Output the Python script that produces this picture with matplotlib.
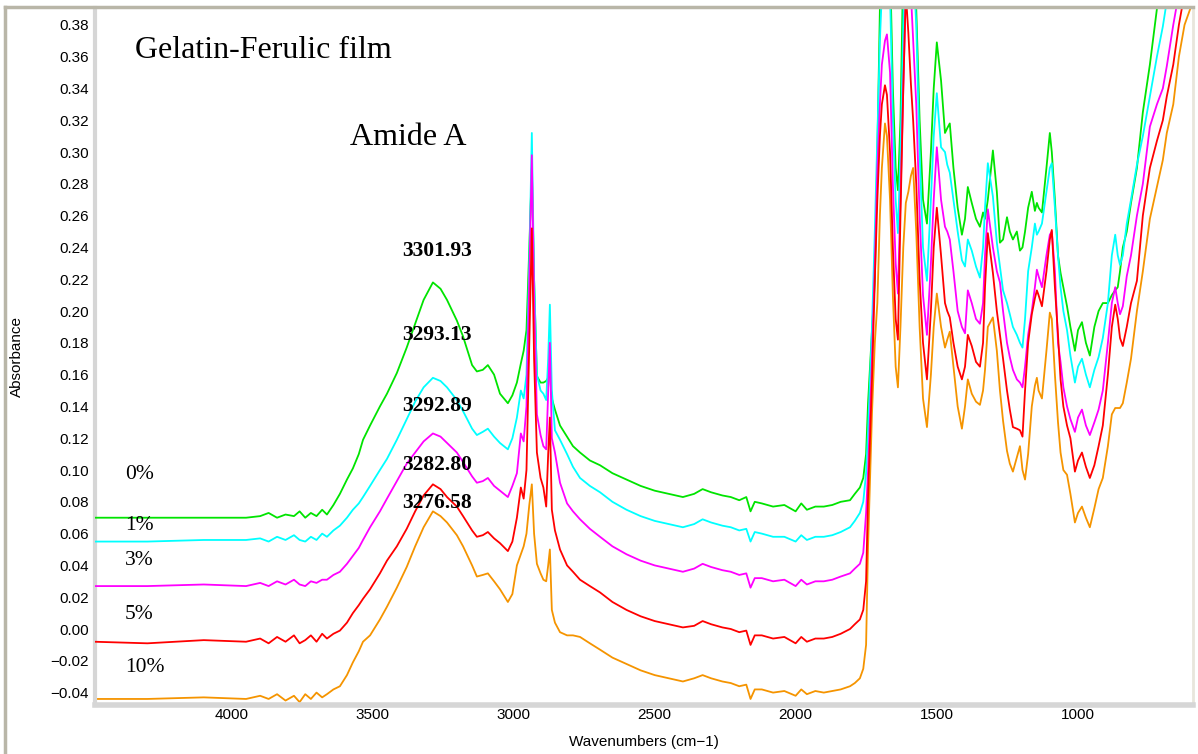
import matplotlib
matplotlib.use('Agg')
from matplotlib import pyplot as plt
from matplotlib.lines import Line2D
from matplotlib.ticker import MultipleLocator, FuncFormatter

# wavenumber grid (cm-1), shared by all spectra
wavenumber = [
    4490, 4300, 4100, 3950, 3900, 3870, 3840, 3810, 3780, 3760, 3740, 3720, 3700, 3680, 3663, 3640,
    3617, 3592, 3571, 3550, 3535, 3510, 3475, 3450, 3415, 3380, 3350, 3320, 3287, 3260, 3237, 3202, 3180, 3148, 3131,
    3110, 3092, 3070, 3049, 3021, 3005, 2989, 2975, 2965, 2955, 2945, 2936, 2928, 2918, 2905, 2895, 2885, 2878, 2872, 2865, 2854, 2836, 2811,
    2790, 2765, 2730, 2694, 2650, 2600, 2550, 2500, 2450, 2400, 2360, 2330, 2300, 2260, 2230, 2200, 2175, 2160, 2145, 2120, 2080, 2040, 2000, 1980, 1960, 1930, 1900, 1870, 1840, 1807,
    1790, 1772, 1760, 1750, 1743, 1736, 1729, 1719, 1710, 1701, 1694, 1683, 1676, 1665, 1655, 1645, 1637, 1628, 1618, 1609, 1600, 1591, 1583, 1572, 1560, 1548, 1534, 1520, 1510, 1499,
    1484, 1470, 1462, 1453, 1440, 1425, 1410, 1399, 1389, 1375, 1360, 1346, 1335, 1328, 1318, 1300, 1286, 1275, 1264, 1250, 1240, 1229, 1215, 1204, 1195, 1186, 1175,
    1162, 1151, 1144, 1138, 1126, 1110, 1098, 1091, 1080, 1069, 1060, 1050, 1037, 1025, 1009,
    998, 984, 970, 956, 940, 925, 910, 892, 878, 866, 857, 849, 839, 825, 810, 789, 768, 743, 718, 697, 683, 660,
    640, 620, 600, 590]

abs_0 = [
    0.070, 0.070, 0.070, 0.070, 0.071, 0.073, 0.070, 0.072, 0.071, 0.074, 0.070, 0.073, 0.071, 0.075, 0.072, 0.078,
    0.085, 0.094, 0.101, 0.110, 0.119, 0.128, 0.140, 0.148, 0.161, 0.177, 0.192, 0.207, 0.218, 0.214, 0.207, 0.194, 0.184, 0.166, 0.162,
    0.163, 0.166, 0.160, 0.148, 0.142, 0.147, 0.155, 0.167, 0.175, 0.188, 0.240, 0.290, 0.220, 0.159, 0.155, 0.155, 0.156, 0.158, 0.160, 0.145, 0.138, 0.128, 0.121,
    0.115, 0.111, 0.106, 0.103, 0.098, 0.094, 0.090, 0.087, 0.085, 0.083, 0.085, 0.088, 0.086, 0.084, 0.083, 0.081, 0.083, 0.074, 0.080, 0.079, 0.077, 0.078, 0.074, 0.079, 0.075, 0.077, 0.077, 0.078, 0.080, 0.081,
    0.085, 0.089, 0.095, 0.110, 0.142, 0.165, 0.188, 0.219, 0.300, 0.390, 0.420, 0.460, 0.460, 0.420, 0.340, 0.290, 0.276, 0.320, 0.420, 0.480, 0.480, 0.460, 0.430, 0.390, 0.320, 0.270, 0.255, 0.300, 0.340, 0.369,
    0.345, 0.312, 0.315, 0.318, 0.290, 0.265, 0.248, 0.258, 0.278, 0.268, 0.258, 0.253, 0.262, 0.258, 0.270, 0.301, 0.275, 0.243, 0.245, 0.259, 0.250, 0.245, 0.250, 0.238, 0.240, 0.250, 0.265,
    0.275, 0.263, 0.268, 0.265, 0.262, 0.290, 0.312, 0.300, 0.270, 0.235, 0.224, 0.215, 0.203, 0.190, 0.175,
    0.188, 0.193, 0.180, 0.172, 0.190, 0.200, 0.205, 0.205, 0.210, 0.213, 0.215, 0.225, 0.240, 0.250, 0.268, 0.290, 0.325, 0.355, 0.390, 0.420, 0.440, 0.470,
    0.500, 0.520, 0.540, 0.550]

abs_1 = [
    0.055, 0.055, 0.056, 0.056, 0.057, 0.055, 0.058, 0.056, 0.059, 0.056, 0.055, 0.058, 0.056, 0.060, 0.058, 0.062,
    0.065, 0.070, 0.075, 0.079, 0.083, 0.090, 0.100, 0.107, 0.119, 0.132, 0.143, 0.152, 0.158, 0.156, 0.152, 0.144, 0.137, 0.126, 0.122,
    0.124, 0.126, 0.121, 0.117, 0.113, 0.120, 0.133, 0.150, 0.145, 0.160, 0.230, 0.312, 0.220, 0.160, 0.150, 0.148, 0.144, 0.170, 0.204, 0.150, 0.125, 0.119, 0.110,
    0.102, 0.095, 0.090, 0.086, 0.080, 0.075, 0.071, 0.068, 0.066, 0.064, 0.066, 0.069, 0.067, 0.065, 0.064, 0.062, 0.063, 0.055, 0.061, 0.060, 0.058, 0.058, 0.055, 0.059, 0.056, 0.058, 0.058, 0.059, 0.061, 0.064,
    0.068, 0.073, 0.080, 0.098, 0.125, 0.157, 0.190, 0.250, 0.310, 0.370, 0.400, 0.430, 0.430, 0.400, 0.320, 0.270, 0.249, 0.300, 0.380, 0.450, 0.460, 0.440, 0.420, 0.380, 0.300, 0.240, 0.219, 0.270, 0.310, 0.337,
    0.303, 0.300, 0.292, 0.287, 0.270, 0.250, 0.232, 0.228, 0.245, 0.238, 0.228, 0.221, 0.240, 0.265, 0.293, 0.272, 0.243, 0.228, 0.213, 0.205, 0.198, 0.190, 0.185, 0.180, 0.177, 0.195, 0.225,
    0.240, 0.255, 0.248, 0.250, 0.255, 0.275, 0.290, 0.293, 0.265, 0.235, 0.215, 0.200, 0.188, 0.172, 0.155,
    0.165, 0.170, 0.160, 0.152, 0.163, 0.171, 0.183, 0.205, 0.235, 0.248, 0.235, 0.229, 0.235, 0.255, 0.270, 0.292, 0.310, 0.335, 0.360, 0.379, 0.395, 0.420,
    0.440, 0.460, 0.480, 0.490]

abs_3 = [
    0.027, 0.027, 0.028, 0.027, 0.029, 0.027, 0.030, 0.028, 0.031, 0.028, 0.027, 0.030, 0.029, 0.031, 0.031, 0.034,
    0.036, 0.041, 0.046, 0.051, 0.056, 0.064, 0.074, 0.082, 0.093, 0.104, 0.111, 0.118, 0.123, 0.121, 0.117, 0.111, 0.105, 0.096, 0.092,
    0.093, 0.095, 0.090, 0.087, 0.083, 0.090, 0.098, 0.123, 0.118, 0.140, 0.220, 0.298, 0.210, 0.135, 0.122, 0.115, 0.113, 0.150, 0.180, 0.120, 0.111, 0.092, 0.079,
    0.074, 0.069, 0.063, 0.058, 0.052, 0.047, 0.043, 0.040, 0.038, 0.036, 0.038, 0.041, 0.039, 0.037, 0.036, 0.034, 0.035, 0.026, 0.032, 0.032, 0.030, 0.031, 0.027, 0.031, 0.028, 0.030, 0.030, 0.031, 0.033, 0.035,
    0.038, 0.041, 0.048, 0.073, 0.100, 0.136, 0.170, 0.230, 0.290, 0.330, 0.355, 0.370, 0.374, 0.350, 0.280, 0.230, 0.211, 0.270, 0.340, 0.400, 0.420, 0.400, 0.370, 0.330, 0.260, 0.210, 0.185, 0.230, 0.270, 0.303,
    0.270, 0.253, 0.250, 0.245, 0.225, 0.200, 0.190, 0.186, 0.213, 0.205, 0.195, 0.192, 0.205, 0.235, 0.264, 0.240, 0.225, 0.218, 0.200, 0.180, 0.171, 0.163, 0.157, 0.155, 0.152, 0.165, 0.185,
    0.200, 0.215, 0.226, 0.222, 0.215, 0.235, 0.248, 0.250, 0.225, 0.180, 0.168, 0.152, 0.140, 0.132, 0.124,
    0.133, 0.138, 0.128, 0.122, 0.130, 0.138, 0.150, 0.180, 0.205, 0.215, 0.205, 0.198, 0.203, 0.222, 0.235, 0.260, 0.280, 0.316, 0.330, 0.340, 0.354, 0.380,
    0.400, 0.420, 0.440, 0.450]

abs_5 = [
    -0.008, -0.009, -0.007, -0.008, -0.006, -0.009, -0.005, -0.008, -0.004, -0.009, -0.007, -0.004, -0.008, -0.003, -0.006, -0.003,
    -0.001, 0.004, 0.010, 0.015, 0.019, 0.025, 0.035, 0.043, 0.052, 0.063, 0.074, 0.084, 0.091, 0.088, 0.083, 0.077, 0.071, 0.062, 0.058,
    0.059, 0.061, 0.057, 0.054, 0.049, 0.055, 0.070, 0.089, 0.082, 0.100, 0.180, 0.252, 0.170, 0.111, 0.095, 0.089, 0.077, 0.110, 0.133, 0.075, 0.062, 0.050, 0.040,
    0.036, 0.031, 0.027, 0.023, 0.017, 0.012, 0.008, 0.005, 0.003, 0.001, 0.002, 0.005, 0.003, 0.001, 0.000, -0.002, -0.001, -0.010, -0.004, -0.004, -0.006, -0.005, -0.009, -0.005, -0.008, -0.006, -0.006, -0.005, -0.003, 0.000,
    0.003, 0.006, 0.012, 0.030, 0.083, 0.120, 0.157, 0.220, 0.270, 0.310, 0.330, 0.342, 0.336, 0.300, 0.240, 0.195, 0.182, 0.260, 0.340, 0.400, 0.375, 0.343, 0.320, 0.280, 0.220, 0.180, 0.157, 0.200, 0.240, 0.265,
    0.235, 0.205, 0.200, 0.196, 0.180, 0.165, 0.157, 0.165, 0.185, 0.178, 0.168, 0.165, 0.180, 0.215, 0.249, 0.224, 0.200, 0.185, 0.170, 0.150, 0.138, 0.127, 0.126, 0.125, 0.121, 0.150, 0.180,
    0.198, 0.208, 0.213, 0.210, 0.203, 0.225, 0.245, 0.251, 0.215, 0.185, 0.157, 0.140, 0.128, 0.120, 0.099,
    0.106, 0.111, 0.102, 0.095, 0.103, 0.115, 0.128, 0.160, 0.190, 0.204, 0.195, 0.183, 0.178, 0.190, 0.205, 0.219, 0.260, 0.290, 0.307, 0.320, 0.335, 0.355,
    0.380, 0.400, 0.420, 0.430]

abs_10 = [
    -0.044, -0.044, -0.043, -0.044, -0.042, -0.044, -0.041, -0.045, -0.042, -0.046, -0.041, -0.044, -0.040, -0.043, -0.041, -0.038,
    -0.036, -0.029, -0.021, -0.014, -0.008, -0.004, 0.006, 0.014, 0.026, 0.039, 0.052, 0.064, 0.074, 0.071, 0.067, 0.059, 0.052, 0.040, 0.033,
    0.034, 0.035, 0.030, 0.025, 0.017, 0.022, 0.040, 0.047, 0.052, 0.060, 0.078, 0.091, 0.060, 0.041, 0.035, 0.031, 0.030, 0.040, 0.050, 0.012, 0.004, -0.002, -0.004,
    -0.004, -0.005, -0.009, -0.013, -0.018, -0.022, -0.026, -0.029, -0.031, -0.033, -0.031, -0.029, -0.031, -0.033, -0.034, -0.036, -0.035, -0.044, -0.038, -0.038, -0.040, -0.039, -0.042, -0.038, -0.041, -0.039, -0.040, -0.039, -0.038, -0.036,
    -0.034, -0.031, -0.025, -0.010, 0.052, 0.095, 0.136, 0.180, 0.205, 0.260, 0.290, 0.318, 0.310, 0.270, 0.210, 0.165, 0.152, 0.190, 0.240, 0.268, 0.275, 0.285, 0.290, 0.250, 0.190, 0.145, 0.127, 0.160, 0.190, 0.211,
    0.190, 0.177, 0.182, 0.187, 0.165, 0.140, 0.126, 0.140, 0.157, 0.148, 0.143, 0.141, 0.150, 0.163, 0.190, 0.196, 0.175, 0.150, 0.131, 0.112, 0.104, 0.099, 0.108, 0.115, 0.100, 0.094, 0.110,
    0.140, 0.153, 0.158, 0.150, 0.145, 0.175, 0.199, 0.195, 0.160, 0.130, 0.111, 0.100, 0.097, 0.085, 0.067,
    0.073, 0.077, 0.070, 0.064, 0.076, 0.088, 0.095, 0.115, 0.135, 0.139, 0.139, 0.139, 0.142, 0.155, 0.170, 0.200, 0.225, 0.258, 0.278, 0.295, 0.312, 0.330,
    0.360, 0.380, 0.390, 0.395]

labels = ['0%', '1%', '3%', '5%', '10%']
label_y = [0.097, 0.065, 0.043, 0.009, -0.024]
peak_labels = ['3301.93', '3293.13', '3292.89', '3282.80', '3276.58']
peak_label_y = [0.238, 0.185, 0.140, 0.103, 0.079]

spectra = [abs_0, abs_1, abs_3, abs_5, abs_10]
colors = ['#00e400', '#00ffff', '#ff00ff', '#ff0000', '#f59400']
zorders = [3, 4, 5, 6, 2]

fig = plt.figure(figsize=(11.98, 7.54), dpi=100)
ax = fig.add_axes([95/1198, 49/754, 1098/1198, 697/754])

for y, c, z in zip(spectra, colors, zorders):
    ax.plot(wavenumber, y, color=c, lw=1.3, zorder=z)

ax.set_xlim(4486, 590)
ax.set_ylim(-0.0478, 0.3906)

ax.xaxis.set_major_locator(MultipleLocator(500))
ax.xaxis.set_minor_locator(MultipleLocator(100))
ax.yaxis.set_major_locator(MultipleLocator(0.02))
ax.yaxis.set_minor_locator(MultipleLocator(0.002))
ax.yaxis.set_major_formatter(FuncFormatter(lambda v, p: f'{v:.2f}'.replace('-', '\u2212')))
ax.xaxis.set_major_formatter(FuncFormatter(lambda v, p: f'{v:.0f}'))

for lab in ax.get_xticklabels() + ax.get_yticklabels():
    lab.set_family('Liberation Sans')
ax.tick_params(axis='both', which='major', labelsize=11, length=3, width=1.2,
               color='black', direction='inout')
ax.tick_params(axis='both', which='minor', length=2, width=1.2, color='black',
               direction='inout')
ax.tick_params(axis='x', which='major', pad=1)
ax.tick_params(axis='y', which='major', pad=3)

ax.spines['left'].set_color('#d6d6d6')
ax.spines['left'].set_linewidth(3)
ax.spines['bottom'].set_color('#d6d6d6')
ax.spines['bottom'].set_linewidth(4)
ax.spines['top'].set_visible(False)
ax.spines['right'].set_color('#e8e6dc')
ax.spines['right'].set_linewidth(2)

ax.set_xlabel('Wavenumbers (cm\u22121)', family='Liberation Sans', fontsize=11, labelpad=9)
ax.set_ylabel('Absorbance', family='Liberation Sans', fontsize=11, labelpad=19)

# outer frame: top and left edges
fig.add_artist(Line2D([5/1198, 1193/1198], [747/754, 747/754], color='#b9b6a8', lw=2.5,
                      transform=fig.transFigure))
fig.add_artist(Line2D([5/1198, 5/1198], [2/754, 747/754], color='#b9b6a8', lw=2.5,
                      transform=fig.transFigure))

ax.text(4344, 0.364, 'Gelatin-Ferulic film', family='Liberation Serif', fontsize=23,
        va='center', ha='left')
ax.text(3581, 0.309, 'Amide A', family='Liberation Serif', fontsize=23,
        va='center', ha='left')

for t, y in zip(peak_labels, peak_label_y):
    ax.text(3273, y, t, family='Liberation Serif', fontsize=15.5, fontweight='bold',
            va='center', ha='center', zorder=10)

for t, y in zip(labels, label_y):
    ax.text(4380, y, t, family='Liberation Serif', fontsize=15.5, va='center', ha='left')

fig.savefig('out.png', dpi=100)
